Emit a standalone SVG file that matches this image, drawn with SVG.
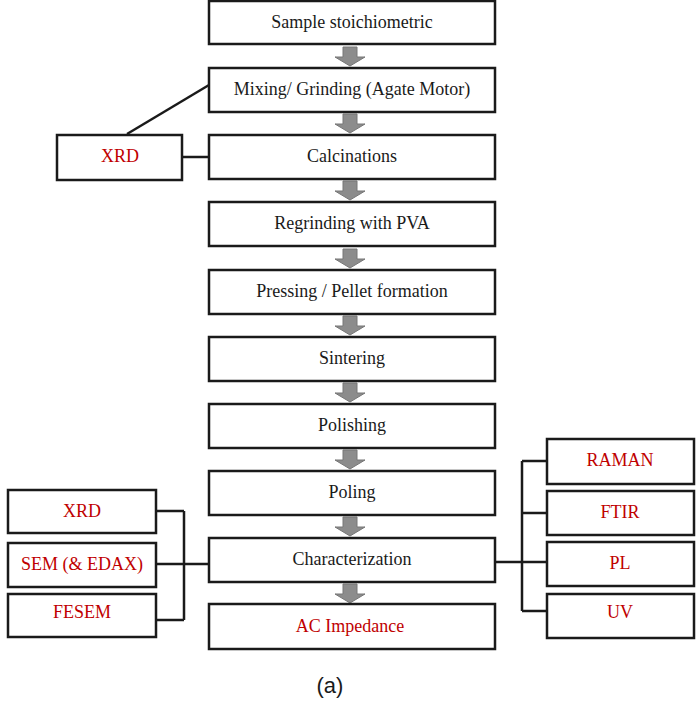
<svg xmlns="http://www.w3.org/2000/svg" width="700" height="710" viewBox="0 0 700 710">
<defs>
<style>
.b{fill:#fff;stroke:#1a1a1a;stroke-width:2.5}
.t{font-family:"Liberation Serif",serif;font-size:18px;text-anchor:middle;fill:#1a1a1a}
.r{fill:#c00000}
.c{fill:none;stroke:#1a1a1a;stroke-width:2.5}
.a{fill:#8c8c8c;stroke:#777;stroke-width:1}
</style>
<path id="ar" class="a" d="M-7,0 H7 V10 H15 L0,19 L-15,10 H-7 Z"/>
</defs>
<rect width="700" height="710" fill="#fff"/>
<g id="connectors">
<path class="c" d="M127,134 L209,85"/>
<path class="c" d="M182,157 H209"/>
<path class="c" d="M156,511 H184 M156,620 H184 M184,511 V620 M156,564 H209"/>
<path class="c" d="M495,562 H547 M522,461 V611 M522,461 H547 M522,513 H547 M522,611 H547"/>
<use href="#ar" x="350" y="47"/>
<use href="#ar" x="350" y="114"/>
<use href="#ar" x="350" y="181"/>
<use href="#ar" x="350" y="249"/>
<use href="#ar" x="350" y="316"/>
<use href="#ar" x="350" y="383"/>
<use href="#ar" x="350" y="450"/>
<use href="#ar" x="350" y="517"/>
<use href="#ar" x="350" y="584"/>
</g>
<g id="n1"><rect class="b" x="209" y="1" width="286" height="43"/><text class="t" x="352" y="28">Sample stoichiometric</text></g>
<g id="n2"><rect class="b" x="209" y="68" width="286" height="44"/><text class="t" x="352" y="95">Mixing/ Grinding (Agate Motor)</text></g>
<g id="n3"><rect class="b" x="209" y="135" width="286" height="44"/><text class="t" x="352" y="162">Calcinations</text></g>
<g id="n4"><rect class="b" x="209" y="202" width="286" height="44"/><text class="t" x="352" y="229">Regrinding with PVA</text></g>
<g id="n5"><rect class="b" x="209" y="270" width="286" height="44"/><text class="t" x="352" y="297">Pressing / Pellet formation</text></g>
<g id="n6"><rect class="b" x="209" y="337" width="286" height="44"/><text class="t" x="352" y="364">Sintering</text></g>
<g id="n7"><rect class="b" x="209" y="404" width="286" height="44"/><text class="t" x="352" y="431">Polishing</text></g>
<g id="n8"><rect class="b" x="209" y="471" width="286" height="44"/><text class="t" x="352" y="498">Poling</text></g>
<g id="n9"><rect class="b" x="209" y="538" width="286" height="44"/><text class="t" x="352" y="565">Characterization</text></g>
<g id="n10"><rect class="b" x="209" y="604" width="286" height="45"/><text class="t r" x="350" y="632">AC Impedance</text></g>
<g id="xrd1"><rect class="b" x="57" y="135" width="125" height="45"/><text class="t r" x="120" y="162">XRD</text></g>
<g id="xrd2"><rect class="b" x="8" y="490" width="148" height="43"/><text class="t r" x="82" y="517">XRD</text></g>
<g id="sem"><rect class="b" x="8" y="543" width="148" height="44"/><text class="t r" x="82" y="570">SEM (&amp; EDAX)</text></g>
<g id="fesem"><rect class="b" x="8" y="594" width="148" height="43"/><text class="t r" x="82" y="618">FESEM</text></g>
<g id="raman"><rect class="b" x="547" y="439" width="147" height="45"/><text class="t r" x="620" y="466">RAMAN</text></g>
<g id="ftir"><rect class="b" x="547" y="491" width="147" height="44"/><text class="t r" x="620" y="518">FTIR</text></g>
<g id="pl"><rect class="b" x="547" y="542" width="147" height="44"/><text class="t r" x="620" y="569">PL</text></g>
<g id="uv"><rect class="b" x="547" y="594" width="147" height="44"/><text class="t r" x="620" y="618">UV</text></g>
<text x="330" y="693" font-family="Liberation Sans,sans-serif" font-size="22" text-anchor="middle" fill="#1a1a1a">(a)</text>
</svg>
